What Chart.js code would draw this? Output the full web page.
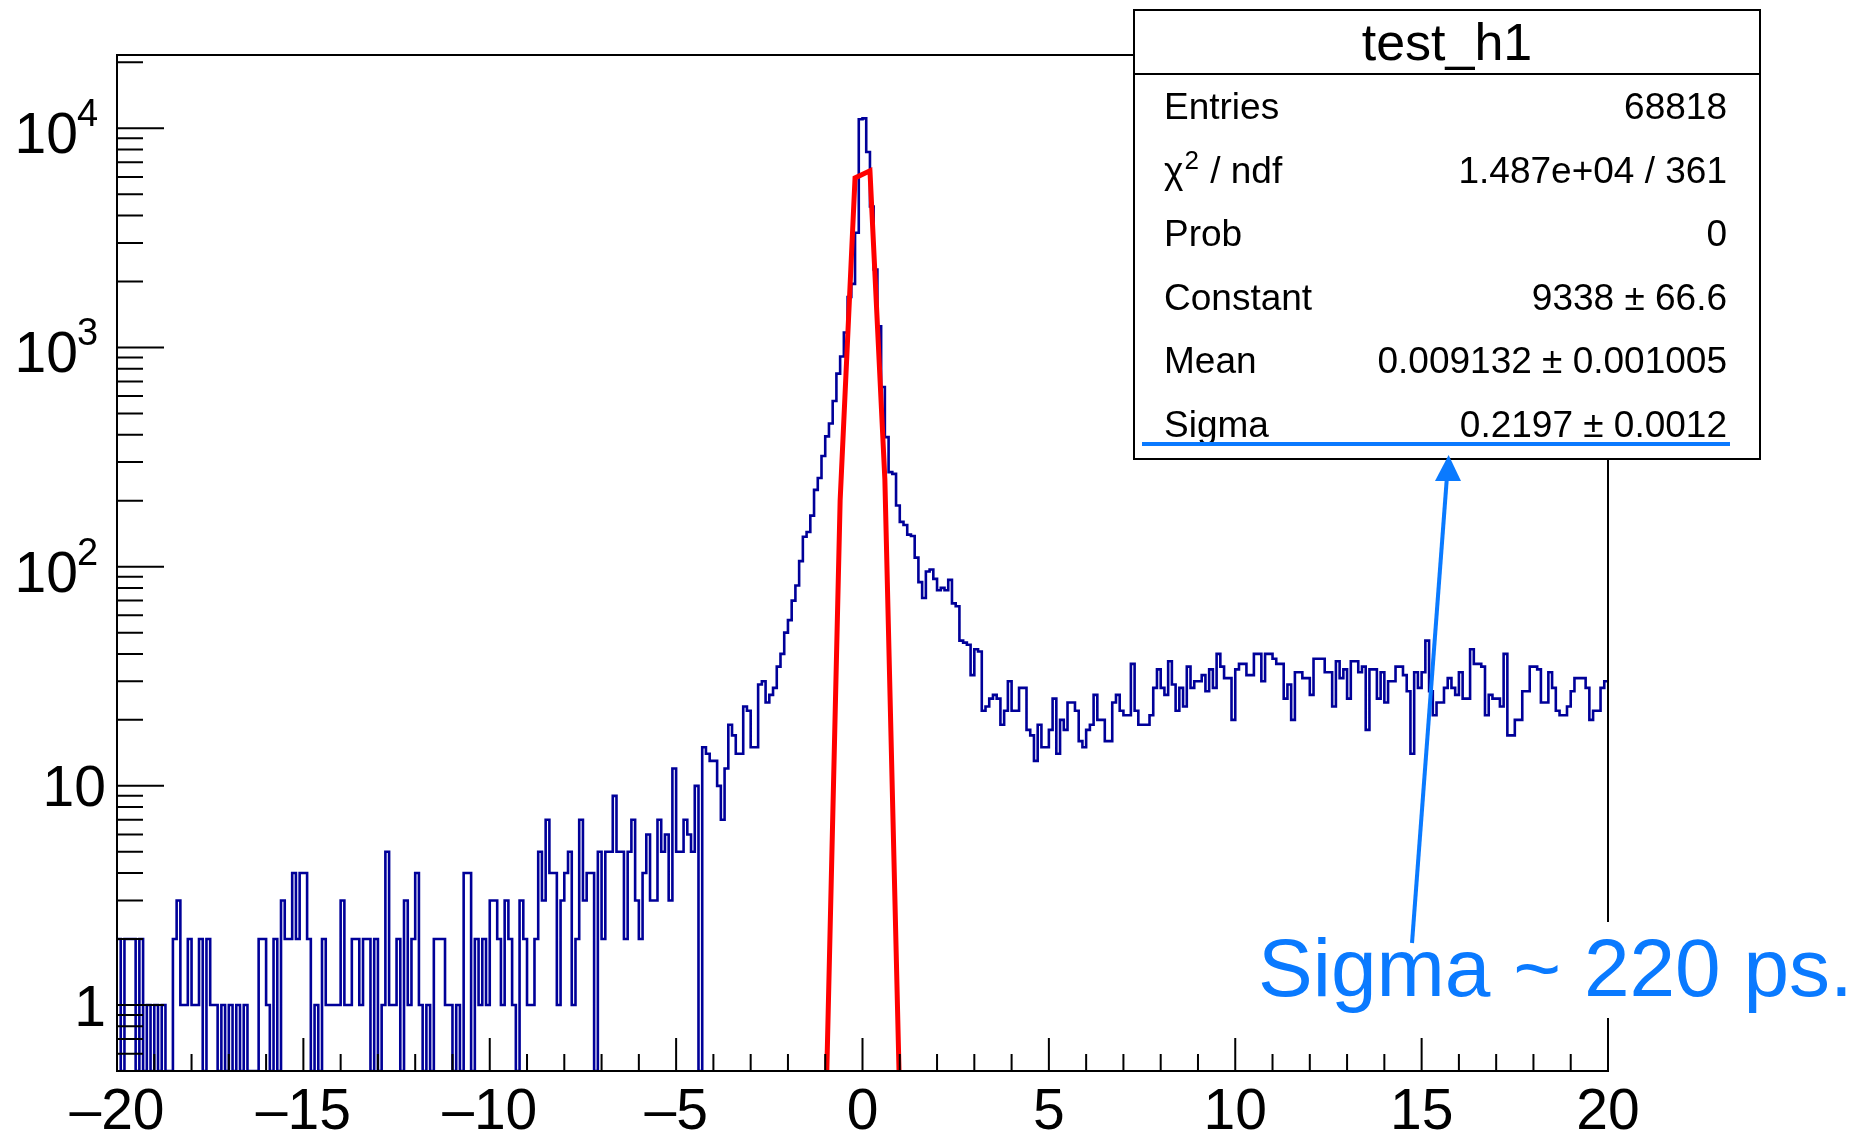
<!DOCTYPE html>
<html>
<head>
<meta charset="utf-8">
<script src="https://cdn.jsdelivr.net/npm/chart.js@4.4.1/dist/chart.umd.min.js"></script>
<style>
body { margin: 0; background: #fff; }
canvas { display: block; }
</style>
</head>
<body>
<canvas id="myChart" width="1865" height="1135"></canvas>
<script>
// test_h1 : 400 bins between -20 and 20, log y axis
var xMin = -20, xMax = 20, binWidth = 0.1;
var yMin = 0.5, yMax = 21600;

// bin contents, 100 bins per array
var countsA = [
  2,0,2,2,2,0,2,0,1,0,  1,0,1,0,0,2,3,1,1,2,
  1,1,2,0,2,1,1,0,1,0,  1,0,1,0,1,0,0,0,2,2,
  1,0,2,0,3,2,2,4,2,4,  4,2,0,1,0,2,1,1,1,1,
  3,1,1,2,2,1,2,2,0,2,  0,1,5,1,1,2,0,3,1,2,
  4,1,0,1,0,2,2,2,1,1,  0,1,0,4,4,0,2,1,2,1
];
var countsB = [
  3,3,2,1,3,2,1,0,3,2,  1,1,2,5,3,7,4,4,1,3,
  4,5,1,2,7,3,4,4,0,5,  2,5,5,9,5,5,2,5,7,3,
  2,4,6,3,3,7,5,6,3,12, 5,5,7,6,5,10,0,15,14,13,
  13,10,7,12,19,17,14,14,23,22,  15,15,29,30,24,26,28,35,40,50,
  57,70,82,106,137,144,171,224,254,320,  393,450,570,760,910,1170,1700,1950,3340,11000
];
var countsC = [
  11100,7800,4400,2270,1250,660,390,270,265,190,  160,155,140,138,110,85,72,95,97,88,
  78,80,78,87,68,66,46,45,44,32,  42,41,22,23,25,26,25,19,22,30,
  22,22,28,28,18,17,13,19,15,15,  18,25,14,20,18,24,24,22,16,15,
  18,19,26,20,20,16,16,24,26,22,  21,21,36,22,19,19,19,21,28,34,
  28,26,37,29,22,28,23,35,28,30,  30,32,27,34,28,40,35,31,31,20
];
var countsD = [
  34,36,36,32,32,40,40,30,40,40,  38,36,36,25,29,20,33,33,31,31,
  26,38,38,38,33,33,23,37,31,34,  25,37,37,33,35,18,34,34,25,33,
  24,30,30,35,35,32,27,14,33,28,  33,46,27,21,24,24,28,31,28,26,
  33,25,25,42,36,36,35,21,26,25,  25,23,40,17,17,20,20,27,27,35,
  35,34,24,24,33,28,22,21,21,23,  27,31,31,31,28,20,22,22,28,30
];

// gaus fit polyline (red)
var fitX = [-1.0, -0.6, -0.2, 0.2, 0.6, 1.0];
var fitY = [0.245, 200, 5940, 6400, 250, 0.36];

var xMajor = [-20, -15, -10, -5, 0, 5, 10, 15, 20];
var yDecades = [0, 1, 2, 3, 4];

var statTitle = 'test_h1';
var statNames = ['Entries', 'chi2', 'Prob', 'Constant', 'Mean', 'Sigma'];
var statValues = ['68818', '1.487e+04 / 361', '0', '9338 \u00b1 66.6', '0.009132 \u00b1 0.001005', '0.2197 \u00b1 0.0012'];
var noteText = 'Sigma ~ 220 ps.';

var counts = countsA.concat(countsB, countsC, countsD);
var histPoints = counts.map(function (c, i) {
  return { x: xMin + i * binWidth, y: c > 0 ? c : yMin };
});
histPoints.push({ x: xMax, y: histPoints[histPoints.length - 1].y });
var fitPoints = fitX.map(function (x, i) { return { x: x, y: fitY[i] }; });

var FONT = '"Liberation Sans", Arial, Helvetica, sans-serif';
var BLUE = '#0a7aff';

var rootStyle = {
  id: 'rootStyle',
  afterDraw: function (chart) {
    var ctx = chart.ctx, a = chart.chartArea, sx = chart.scales.x, sy = chart.scales.y;
    ctx.save();
    ctx.strokeStyle = '#000';
    ctx.lineWidth = 2;
    ctx.strokeRect(a.left, a.top, a.right - a.left, a.bottom - a.top);

    // ticks
    ctx.beginPath();
    for (var v = xMin; v <= xMax; v++) {
      var px = sx.getPixelForValue(v);
      var len = (v % 5 === 0) ? 33 : 17;
      ctx.moveTo(px, a.bottom); ctx.lineTo(px, a.bottom - len);
    }
    for (var d = -1; d <= 4; d++) {
      for (var m = 1; m <= 9; m++) {
        var val = m * Math.pow(10, d);
        if (val <= yMin || val > yMax) continue;
        var py = sy.getPixelForValue(val);
        var l2 = m === 1 ? 47 : 26;
        ctx.moveTo(a.left, py); ctx.lineTo(a.left + l2, py);
      }
    }
    ctx.stroke();

    // x labels
    ctx.fillStyle = '#000';
    ctx.font = '57px ' + FONT;
    ctx.textAlign = 'center';
    ctx.textBaseline = 'alphabetic';
    xMajor.forEach(function (v) {
      var t = v < 0 ? '\u2013' + (-v) : String(v);
      ctx.fillText(t, sx.getPixelForValue(v), 1129);
    });

    // y labels
    yDecades.forEach(function (n) {
      var py = sy.getPixelForValue(Math.pow(10, n));
      ctx.font = '57px ' + FONT;
      if (n === 0 || n === 1) {
        ctx.textAlign = 'right';
        ctx.fillText(n === 0 ? '1' : '10', 106, py + 20.5);
      } else {
        ctx.textAlign = 'right';
        ctx.fillText('10', 78, py + 25);
        ctx.textAlign = 'left';
        ctx.font = '38px ' + FONT;
        ctx.fillText(String(n), 77, py - 2);
      }
    });

    // stats box
    var bx = 1134, by = 10, bw = 626, bh = 449;
    ctx.fillStyle = '#fff';
    ctx.fillRect(bx, by, bw, bh);
    ctx.strokeStyle = '#000';
    ctx.lineWidth = 2;
    ctx.strokeRect(bx, by, bw, bh);
    ctx.beginPath();
    ctx.moveTo(bx, 74); ctx.lineTo(bx + bw, 74);
    ctx.stroke();
    ctx.fillStyle = '#000';
    ctx.textAlign = 'center';
    ctx.font = '52px ' + FONT;
    ctx.fillText(statTitle, bx + bw / 2, 60);
    ctx.font = '37px ' + FONT;
    statNames.forEach(function (name, i) {
      var base = 119 + 63.5 * i;
      ctx.textAlign = 'left';
      if (name === 'chi2') {
        ctx.font = '37px ' + FONT;
        ctx.fillText('\u03c7', 1164, base);
        var w1 = ctx.measureText('\u03c7').width;
        ctx.font = '26px ' + FONT;
        ctx.fillText('2', 1164 + w1 + 1, base - 14);
        var w2 = ctx.measureText('2').width;
        ctx.font = '37px ' + FONT;
        ctx.fillText(' / ndf', 1164 + w1 + w2 + 2, base);
      } else {
        ctx.fillText(name, 1164, base);
      }
      ctx.textAlign = 'right';
      ctx.fillText(statValues[i], 1727, base);
    });

    // annotation
    ctx.strokeStyle = BLUE;
    ctx.fillStyle = BLUE;
    ctx.lineWidth = 4;
    ctx.beginPath();
    ctx.moveTo(1142, 444); ctx.lineTo(1730, 444);
    ctx.stroke();

    ctx.fillStyle = '#fff';
    ctx.fillRect(1250, 922, 615, 96);
    ctx.fillStyle = BLUE;
    ctx.beginPath();
    ctx.moveTo(1412, 943); ctx.lineTo(1447, 476);
    ctx.stroke();
    ctx.beginPath();
    ctx.moveTo(1448.6, 455); ctx.lineTo(1461, 481); ctx.lineTo(1435, 481);
    ctx.closePath();
    ctx.fill();

    ctx.font = '82px ' + FONT;
    ctx.textAlign = 'left';
    ctx.fillText(noteText, 1258, 996);
    ctx.restore();
  }
};

var ctx = document.getElementById('myChart').getContext('2d');
var chart = new Chart(ctx, {
  type: 'line',
  data: {
    datasets: [{
      label: 'fit',
      data: fitPoints,
      borderColor: '#ff0000',
      borderWidth: 5,
      pointRadius: 0,
      fill: false,
      tension: 0,
      order: 0
    }, {
      label: 'test_h1',
      data: histPoints,
      borderColor: '#000099',
      borderWidth: 2.6,
      borderJoinStyle: 'miter',
      pointRadius: 0,
      fill: false,
      stepped: 'before',
      tension: 0,
      order: 1
    }]
  },
  options: {
    responsive: false,
    devicePixelRatio: 1,
    animation: false,
    layout: { padding: { left: 117, right: 257, top: 55, bottom: 64 } },
    plugins: { legend: { display: false }, tooltip: { enabled: false } },
    scales: {
      x: { type: 'linear', min: xMin, max: xMax, display: false },
      y: { type: 'logarithmic', min: yMin, max: yMax, display: false }
    }
  },
  plugins: [rootStyle]
});
</script>
</body>
</html>
